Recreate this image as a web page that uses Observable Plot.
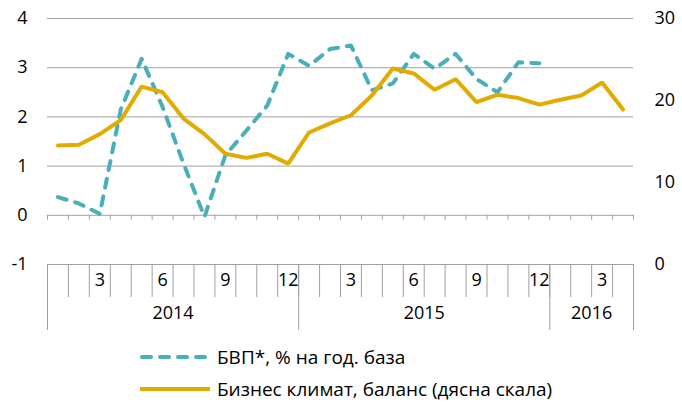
<!DOCTYPE html>
<html><head><meta charset="utf-8">
<script src="https://cdn.jsdelivr.net/npm/d3@7"></script>
<script src="https://cdn.jsdelivr.net/npm/@observablehq/plot@0.6"></script>
<style>
body{margin:0;background:#fff;font-family:"Open Sans",sans-serif;}
#legend{position:relative;height:64px;width:682px;}
.item{position:absolute;left:138px;height:26px;display:flex;align-items:center;font-size:19px;color:#000;white-space:nowrap;}
.item svg{margin-right:5px;}
</style></head><body>
<div id="chart"></div>
<div id="legend"></div>
<script>
const monthLabels = ["","","3","","","6","","","9","","","12","","","3","","","6","","","9","","","12","","","3",""];
const years = ["2014","2015","2016"];
const yearLengths = [12, 12, 4];
const gdp = [0.37, 0.24, 0.03, 2.15, 3.18, 2.2, 1.05, -0.03, 1.22, 1.72, 2.23, 3.28,
             3.04, 3.38, 3.45, 2.54, 2.68, 3.28, 2.98, 3.28, 2.77, 2.5, 3.11, 3.09];
const business = [14.5, 14.6, 15.9, 17.6, 21.7, 21.0, 17.8, 15.9, 13.5, 13.0, 13.5, 12.3,
                  16.1, 17.2, 18.2, 20.6, 23.9, 23.3, 21.3, 22.6, 19.8, 20.7, 20.3, 19.5,
                  20.1, 20.6, 22.2, 18.9];
const seriesNames = ["БВП*, % на год. база", "Бизнес климат, баланс (дясна скала)"];
const leftTicks = [-1, 0, 1, 2, 3, 4];
const rightTicks = [0, 10, 20, 30];
const colors = ["#4aafb8", "#e2ab00"];

const toLeft = r => -1 + r * 5 / 30;
const gdpData = gdp.map((v, i) => ({i, v}));
const bcData = business.map((v, i) => ({i, v: toLeft(v)}));
const n = monthLabels.length;
const bounds = d3.range(n + 1).map(i => i - 0.5);
const yearBounds = [-0.5];
const yearCenters = [];
{ let s = 0; for (const L of yearLengths) { yearCenters.push(s + (L - 1) / 2); s += L; yearBounds.push(s - 0.5); } }

const grid = "#a0a0a0";
const plot = Plot.plot({
  width: 682, height: 340,
  marginLeft: 47, marginRight: 49, marginTop: 18, marginBottom: 76,
  x: {domain: [-0.5, n - 0.5], axis: null},
  y: {domain: [-1, 4], axis: null},
  style: {fontFamily: "Open Sans", fontSize: "18px", color: "#000", background: "#fff", overflow: "visible"},
  marks: [
    Plot.ruleY(leftTicks, {stroke: grid, strokeWidth: 1}),
    Plot.ruleX(bounds, {y1: 0, y2: -0.1, stroke: grid}),
    Plot.axisX(bounds, {anchor: "bottom", tickSize: 33, tickFormat: () => "", stroke: grid, label: null}),
    Plot.axisX(yearBounds, {anchor: "bottom", tickSize: 66, tickFormat: () => "", stroke: grid, label: null}),
    Plot.axisX(d3.range(n), {anchor: "bottom", tickSize: 0, tickPadding: 9, tickFormat: i => monthLabels[i], label: null}),
    Plot.axisX(yearCenters, {anchor: "bottom", tickSize: 0, tickPadding: 42, tickFormat: d => years[yearCenters.indexOf(d)], label: null}),
    Plot.axisY(leftTicks, {anchor: "left", tickSize: 0, tickPadding: 20, tickFormat: d => String(d), label: null}),
    Plot.axisY(rightTicks.map(toLeft), {anchor: "right", tickSize: 0, tickPadding: 21, tickFormat: d => String(Math.round((d + 1) * 6)), label: null}),
    Plot.line(gdpData, {x: "i", y: "v", stroke: colors[0], strokeWidth: 4, strokeDasharray: "9,9", strokeLinecap: "round", strokeLinejoin: "round"}),
    Plot.line(bcData, {x: "i", y: "v", stroke: colors[1], strokeWidth: 4, strokeLinejoin: "miter"})
  ]
});
document.getElementById("chart").appendChild(plot);

const legend = document.getElementById("legend");
seriesNames.forEach((name, k) => {
  const item = document.createElement("div");
  item.className = "item";
  item.style.top = (k === 0 ? 4 : 36) + "px";
  const dash = k === 0 ? 'stroke-dasharray="9,9" stroke-linecap="round"' : '';
  item.innerHTML = `<svg width="74" height="8"><line x1="${k===0?4:2}" y1="4" x2="${k===0?68:72}" y2="4" stroke="${colors[k]}" stroke-width="4" ${dash}/></svg><span>${name}</span>`;
  legend.appendChild(item);
});
</script>
</body></html>
